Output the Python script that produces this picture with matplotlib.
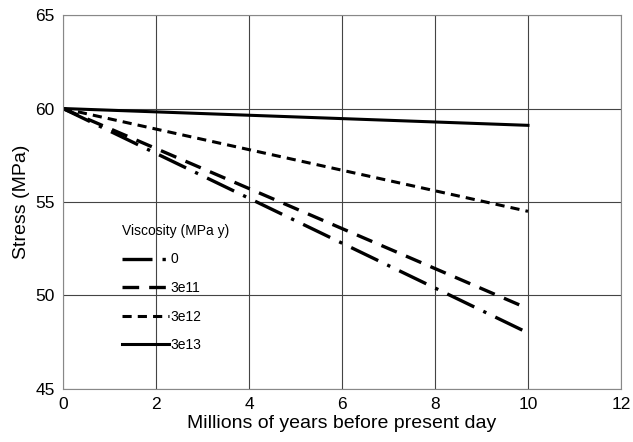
import matplotlib
matplotlib.use("Agg")
import matplotlib.pyplot as plt

plt.rcParams['font.family'] = ['Liberation Sans', 'DejaVu Sans']

# time (Myr before present) and stress (MPa) per viscosity
years = [0, 1, 2, 3, 4, 5, 6, 7, 8, 9, 10]
stress_0 = [60.0, 58.8, 57.6, 56.4, 55.2, 54.0, 52.8, 51.6, 50.4, 49.2, 48.0]
stress_3e11 = [60.0, 58.93, 57.86, 56.79, 55.72, 54.65, 53.58, 52.51, 51.44, 50.37, 49.3]
stress_3e12 = [60.0, 59.45, 58.9, 58.35, 57.8, 57.25, 56.7, 56.15, 55.6, 55.05, 54.5]
stress_3e13 = [60.0, 59.91, 59.82, 59.73, 59.64, 59.55, 59.46, 59.37, 59.28, 59.19, 59.1]
labels = ["0", "3e11", "3e12", "3e13"]

fig = plt.figure(figsize=(6.33, 4.42), dpi=100)
ax = fig.add_axes([0.0995, 0.12, 0.8815, 0.846])

ax.plot(years, stress_0, color='black', lw=2.4, dashes=(9, 3, 1, 3), label=labels[0])
ax.plot(years, stress_3e11, color='black', lw=2.4, dashes=(5, 3), label=labels[1])
ax.plot(years, stress_3e12, color='black', lw=2.2, dashes=(3, 2), label=labels[2])
ax.plot(years, stress_3e13, color='black', lw=2.2, label=labels[3])

ax.set_xlim(0, 12)
ax.set_ylim(45, 65)
ax.set_xticks(range(0, 13, 2))
ax.set_yticks(range(45, 66, 5))
ax.grid(True, color='#444444', lw=0.8)
ax.set_axisbelow(True)
for s in ax.spines.values():
    s.set_color('#888888')
ax.tick_params(length=0, labelsize=12.5, pad=6)

ax.set_xlabel("Millions of years before present day", fontsize=14, labelpad=2)
ax.set_ylabel("Stress (MPa)", fontsize=14, labelpad=4)

leg = ax.legend(title="Viscosity (MPa y)", loc='upper left', bbox_to_anchor=(0.083, 0.475),
                frameon=False, fontsize=10, title_fontsize=10, handlelength=3.4,
                handletextpad=0.1, labelspacing=1.05, alignment='left')

fig.savefig("out.png", dpi=100)
